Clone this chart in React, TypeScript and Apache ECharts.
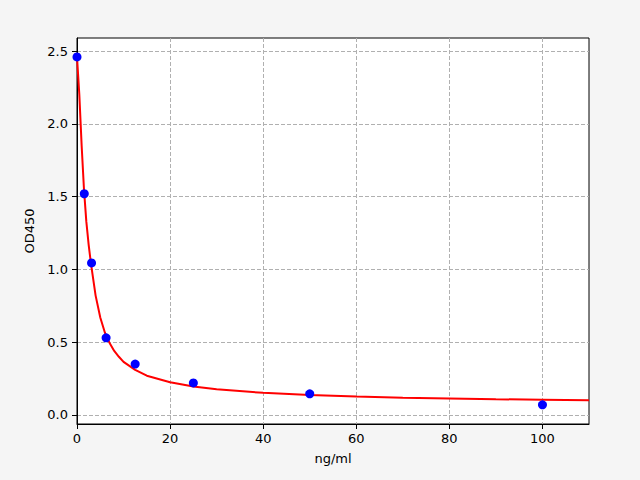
import React, { useEffect, useRef } from "react";
import * as echarts from "echarts";

const pointX = [0, 1.5625, 3.125, 6.25, 12.5, 25, 50, 100];
const pointY = [2.46, 1.52, 1.045, 0.53, 0.35, 0.22, 0.145, 0.07];

const curveX = [0, 0.5, 1, 1.5, 2, 2.5, 3, 4, 5, 6, 7, 8, 9, 10, 12.5, 15, 20, 25, 30, 40, 50, 60, 70, 80, 90, 100, 110];
const curveY = [2.46, 2.2, 1.85, 1.55, 1.33, 1.17, 1.04, 0.82, 0.67, 0.565, 0.495, 0.44, 0.4, 0.365, 0.31, 0.27, 0.225, 0.195, 0.177, 0.152, 0.138, 0.127, 0.119, 0.113, 0.108, 0.105, 0.102];

const yTicks = [0, 0.5, 1.0, 1.5, 2.0, 2.5];
const xTicks = [0, 20, 40, 60, 80, 100];

export default function App() {
  const ref = useRef<HTMLDivElement>(null);
  useEffect(() => {
    if (!ref.current) return;
    const chart = echarts.init(ref.current, undefined, { renderer: "svg" });
    const font = "DejaVu Sans";
    chart.setOption({
      animation: false,
      backgroundColor: "#f5f5f5",
      grid: {
        left: 77,
        right: 51,
        top: 38,
        bottom: 56,
        show: true,
        backgroundColor: "#ffffff",
        borderColor: "#000000",
        borderWidth: 1,
      },
      xAxis: {
        type: "value",
        min: 0,
        max: 110,
        interval: 20,
        name: "ng/ml",
        nameLocation: "middle",
        nameGap: 28,
        nameTextStyle: { fontFamily: font, fontSize: 13, color: "#000" },
        axisLine: { show: true, onZero: false, lineStyle: { color: "#000" } },
        axisTick: { show: true, inside: false, length: 5, lineStyle: { color: "#000" }, customValues: xTicks },
        axisLabel: { fontFamily: font, fontSize: 13, color: "#000", margin: 8, customValues: xTicks, formatter: (v: number) => String(v) },
        splitLine: { show: true, lineStyle: { color: "#b0b0b0", type: [4, 2], width: 1 } },
      },
      yAxis: {
        type: "value",
        min: -0.062,
        max: 2.59,
        name: "OD450",
        nameLocation: "middle",
        nameGap: 39,
        nameTextStyle: { fontFamily: font, fontSize: 13, color: "#000" },
        axisLine: { show: true, onZero: false, lineStyle: { color: "#000" } },
        axisTick: { show: true, inside: false, length: 5, lineStyle: { color: "#000" }, customValues: yTicks },
        axisLabel: { fontFamily: font, fontSize: 13, color: "#000", margin: 9, customValues: yTicks, formatter: (v: number) => v.toFixed(1) },
        splitLine: { show: true, lineStyle: { color: "#b0b0b0", type: [4, 2], width: 1 } },
      },
      series: [
        {
          type: "line",
          data: curveX.map((x, i) => [x, curveY[i]]),
          showSymbol: false,
          smooth: false,
          lineStyle: { color: "#ff0000", width: 2 },
          z: 2,
        },
        {
          type: "scatter",
          data: pointX.map((x, i) => [x, pointY[i]]),
          symbolSize: 9,
          itemStyle: { color: "#0000ff", opacity: 1 },
          z: 3,
        },
      ],
    });
    return () => chart.dispose();
  }, []);
  return <div ref={ref} style={{ position: "fixed", left: 0, top: 0, width: 640, height: 480 }} />;
}
